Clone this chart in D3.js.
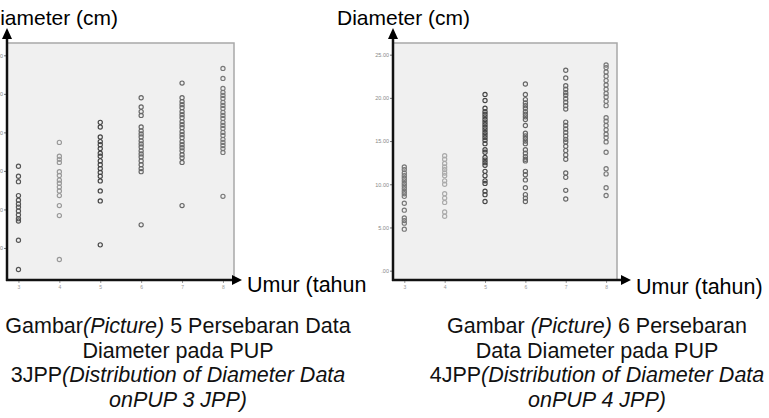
<!DOCTYPE html>
<html>
  <head>
    <title>Persebaran Data Diameter PUP 3 JPP / 4 JPP</title>
    <script src="https://d3js.org/d3.v7.min.js"></script>
    <style>
      body { margin: 0; background: #fff; }
      text { font-family: "Liberation Sans", Arial, sans-serif; }
    </style>
  </head>
  <body>
    <div id="chart"></div>
    <script>
      // umur (tahun) on the x axis
      var ages = [3, 4, 5, 6, 7, 8];

      // diameter (cm) per age, PUP 3 JPP (left figure)
      var pup3Diameters = [
        [15.6, 14.3, 13.6, 11.8, 11.2, 10.7, 10.3, 9.8, 9.3, 8.8, 8.5, 6.0, 2.2],
        [18.7, 16.9, 16.5, 16.1, 14.9, 14.4, 13.8, 13.4, 12.9, 12.4, 11.8, 10.5, 9.2, 3.5],
        [21.3, 20.7, 19.4, 18.8, 18.4, 17.9, 17.3, 16.9, 16.3, 15.8, 15.3, 14.8, 14.3, 13.7, 12.4, 11.1, 5.4],
        [24.5, 23.3, 22.7, 22.2, 20.7, 20.2, 19.8, 19.4, 18.9, 18.5, 18.1, 17.6, 17.2, 16.8, 16.3, 15.8, 15.3, 14.9, 8.0],
        [26.4, 24.5, 24.0, 23.6, 23.2, 22.7, 22.3, 21.9, 21.4, 21.0, 20.6, 20.1, 19.7, 19.3, 18.8, 18.4, 18.0, 17.6, 17.1, 16.7, 16.1, 10.5],
        [28.3, 27.0, 25.7, 25.2, 24.8, 24.4, 23.9, 23.5, 23.1, 22.6, 22.2, 21.8, 21.3, 20.9, 20.5, 20.0, 19.6, 19.1, 18.7, 18.3, 17.9, 17.4, 11.7]
      ];

      // diameter (cm) per age, PUP 4 JPP (right figure)
      var pup4Diameters = [
        [12.0, 11.7, 11.3, 11.0, 10.7, 10.4, 10.1, 9.8, 9.5, 9.2, 8.9, 8.6, 7.8, 7.0, 6.1, 5.8, 5.5, 4.8],
        [13.3, 12.9, 12.4, 12.0, 11.7, 11.3, 11.0, 10.4, 10.0, 8.9, 8.4, 7.9, 6.8, 6.3],
        [20.4, 19.7, 18.8, 18.4, 18.1, 17.8, 17.5, 17.2, 16.9, 16.6, 16.3, 16.0, 15.7, 15.4, 15.1, 14.7, 14.0, 13.7, 13.1, 12.8, 12.5, 12.2, 11.5, 11.0, 10.4, 10.1, 9.2, 8.8, 8.0],
        [21.6, 20.4, 19.8, 19.4, 19.1, 18.8, 18.4, 18.1, 17.8, 17.5, 16.8, 15.9, 15.6, 15.3, 15.0, 14.7, 14.0, 13.6, 13.2, 12.9, 12.7, 11.5, 11.1, 10.5, 9.6, 8.8, 8.4, 8.0],
        [23.2, 22.3, 21.4, 21.0, 20.6, 20.3, 19.9, 19.5, 19.1, 18.7, 17.2, 16.8, 16.4, 16.0, 15.6, 15.2, 14.9, 14.4, 13.9, 13.4, 12.9, 11.3, 10.8, 9.3, 8.3],
        [23.8, 23.5, 23.0, 22.5, 22.0, 21.5, 21.0, 20.5, 20.1, 19.6, 19.1, 17.7, 17.3, 16.8, 16.3, 15.8, 15.4, 14.9, 13.7, 11.8, 11.2, 9.6, 8.7]
      ];

      // y tick values and labels
      var pup3YTicks = [5, 10, 15, 20, 25, 30];
      var pup4YTicks = [0, 5, 10, 15, 20, 25];
      var yTickLabels = [".00", "5.00", "10.00", "15.00", "20.00", "25.00", "30.00"];

      var yTitle = "Diameter (cm)";
      var caption3 = [
        [["Gambar", false], ["(Picture)", true], [" 5 Persebaran Data", false]],
        [["Diameter pada PUP", false]],
        [["3JPP", false], ["(Distribution of Diameter Data", true]],
        [["onPUP 3 JPP)", true]]
      ];
      var caption4 = [
        [["Gambar ", false], ["(Picture)", true], [" 6 Persebaran", false]],
        [["Data Diameter pada PUP", false]],
        [["4JPP", false], ["(Distribution of Diameter Data", true]],
        [["onPUP 4 JPP)", true]]
      ];

      var W = 769, H = 418;
      var svg = d3.select("#chart").append("svg")
        .attr("width", W)
        .attr("height", H);

      function drawPanel(p) {
        var x = d3.scaleLinear().domain([2.72, 8.27]).range([p.left, p.right]);
        var y = d3.scaleLinear().domain(p.yDomain).range([p.bottom, p.top]);
        var g = svg.append("g");

        // plot background
        g.append("rect")
          .attr("x", p.left).attr("y", p.top)
          .attr("width", p.right - p.left).attr("height", p.bottom - p.top)
          .attr("fill", "#f0f0f0");
        g.append("path")
          .attr("d", "M" + p.left + "," + p.top + "H" + p.right + "V" + p.bottom)
          .attr("fill", "none").attr("stroke", "#a8a8a8").attr("stroke-width", 1.5);

        // y axis ticks
        var yAxis = g.append("g")
          .attr("transform", "translate(" + p.left + ",0)")
          .call(d3.axisLeft(y).tickValues(p.yTicks).tickSize(3).tickPadding(1)
            .tickFormat(function(d) { return yTickLabels[d / 5]; }));
        yAxis.select(".domain").remove();
        yAxis.selectAll("line").attr("stroke", "#777");
        yAxis.selectAll("text").attr("font-size", "5.5px").attr("fill", "#888");

        // x axis ticks
        var xAxis = g.append("g")
          .attr("transform", "translate(0," + p.bottom + ")")
          .call(d3.axisBottom(x).tickValues(ages).tickSize(3).tickPadding(2)
            .tickFormat(d3.format("d")));
        xAxis.select(".domain").remove();
        xAxis.selectAll("line").attr("stroke", "#999");
        xAxis.selectAll("text").attr("font-size", "5px").attr("fill", "#999");

        // points
        p.data.forEach(function(col, i) {
          g.selectAll(null)
            .data(col)
            .enter()
            .append("circle")
            .attr("cx", x(ages[i]))
            .attr("cy", function(d) { return y(d); })
            .attr("r", 2.1)
            .attr("fill", "none")
            .attr("stroke", p.colors[i])
            .attr("stroke-width", 1.15);
        });

        // axis lines with arrows
        g.append("line")
          .attr("x1", p.left).attr("y1", p.top - 5)
          .attr("x2", p.left).attr("y2", p.bottom + 1)
          .attr("stroke", "#111").attr("stroke-width", 2.5);
        g.append("path")
          .attr("d", "M" + (p.left - 5) + "," + (p.top - 4) + "L" + p.left + "," + (p.top - 15) +
            "L" + (p.left + 5) + "," + (p.top - 4) + "Z")
          .attr("fill", "#000");
        g.append("line")
          .attr("x1", p.left - 1).attr("y1", p.bottom)
          .attr("x2", p.arrowX - 8).attr("y2", p.bottom)
          .attr("stroke", "#111").attr("stroke-width", 2.5);
        g.append("path")
          .attr("d", "M" + (p.arrowX - 10) + "," + (p.bottom - 5) + "L" + p.arrowX + "," + p.bottom +
            "L" + (p.arrowX - 10) + "," + (p.bottom + 5) + "Z")
          .attr("fill", "#000");

        // axis titles
        g.append("text")
          .attr("x", p.yTitleX).attr("y", 25)
          .attr("font-size", "21px").attr("fill", "#000")
          .text(yTitle);
        g.append("text")
          .attr("x", p.arrowX + 5).attr("y", p.xTitleY)
          .attr("font-size", "21.5px").attr("fill", "#000")
          .text(p.xTitle);

        // caption
        p.caption.forEach(function(line, i) {
          var t = g.append("text")
            .attr("x", p.captionX).attr("y", 333 + i * 24.7)
            .attr("text-anchor", "middle")
            .attr("font-size", "21.5px").attr("fill", "#111");
          line.forEach(function(part) {
            t.append("tspan")
              .attr("font-style", part[1] ? "italic" : "normal")
              .text(part[0]);
          });
        });
      }

      drawPanel({
        left: 7, right: 234, top: 43, bottom: 280,
        yDomain: [0.84, 31.6], yTicks: pup3YTicks,
        data: pup3Diameters,
        colors: ["#555", "#999", "#444", "#666", "#666", "#777"],
        arrowX: 242, xTitle: "Umur (tahun", xTitleY: 292,
        yTitleX: -15, captionX: 178, caption: caption3
      });

      drawPanel({
        left: 393, right: 617, top: 43, bottom: 280,
        yDomain: [-1.08, 26.35], yTicks: pup4YTicks,
        data: pup4Diameters,
        colors: ["#777", "#aaa", "#444", "#666", "#666", "#777"],
        arrowX: 631, xTitle: "Umur (tahun)", xTitleY: 294,
        yTitleX: 337, captionX: 597, caption: caption4
      });
    </script>
  </body>
</html>
